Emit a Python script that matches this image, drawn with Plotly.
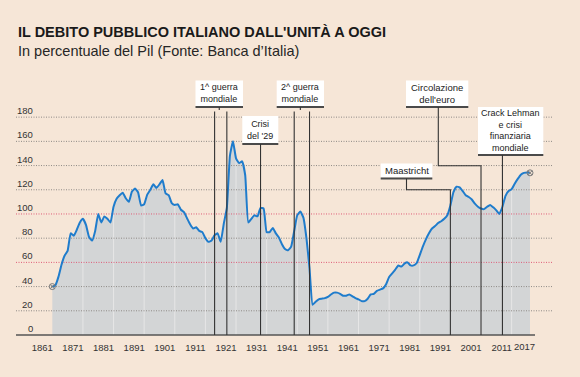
import plotly.graph_objects as go

# ---------------- data ----------------
years = list(range(1861, 2018))
debt = [
    40, 41, 48, 58, 65.5, 69.5, 84, 82, 87, 93,            # 1861-1870
    96, 91, 81, 78, 86, 100, 93, 98, 96, 93,               # 1871-1880
    106, 112.5, 115.5, 117.5, 113, 110, 118.5, 121, 118, 107,  # 1881-1890
    108, 116, 120, 124.5, 121.5, 124.5, 128, 117, 115.5, 109,  # 1891-1900
    107.5, 108, 103.5, 101.5, 96.5, 91.5, 88, 89, 86, 85,  # 1901-1910
    80, 77, 78, 82.5, 84, 77, 92, 105, 148, 160,           # 1911-1920
    146, 142, 143.5, 132, 93, 96, 99, 98, 105, 104.5,      # 1921-1930
    85, 85, 88.5, 84, 80.5, 75, 71, 70, 73, 86,            # 1931-1940
    99, 102, 97, 80, 55, 25, 27.5, 29.5, 30, 30.5,         # 1941-1950
    31.5, 33.5, 35, 35, 34, 32.5, 32.5, 33.5, 32, 30.5,    # 1951-1960
    29.5, 28, 28, 30, 33.5, 34, 36.5, 37.5, 38.5, 42,      # 1961-1970
    48, 51, 54, 57.5, 56.5, 59, 60, 57.5, 57.5, 59.5,      # 1971-1980
    66, 73, 79, 84, 88, 90, 92.5, 94, 96, 99,              # 1981-1990
    107, 118, 122.5, 122, 119, 115.5, 114, 112, 108.5, 106,  # 1991-2000
    104.5, 104, 106, 107.5, 105.5, 103, 100, 106, 115, 119,  # 2001-2010
    120.5, 125, 129, 132.5, 134, 134.3, 134,               # 2011-2017
]
assert len(debt) == len(years)

y_ticks = [0, 20, 40, 60, 80, 100, 120, 140, 160, 180]
red_levels = [60, 100]
x_ticks = list(range(1861, 2012, 10))
last_year_label = 2017

title = "IL DEBITO PUBBLICO ITALIANO DALL'UNITÀ A OGGI"
subtitle = "In percentuale del Pil (Fonte: Banca d’Italia)"

# event labels and the years they point to
ev_ww1 = (["1^ guerra", "mondiale"], [1914, 1918])
ev_29 = (["Crisi", "del '29"], [1929])
ev_ww2 = (["2^ guerra", "mondiale"], [1940, 1945])
ev_maas = (["Maastricht"], [1991])
ev_euro = (["Circolazione", "dell'euro"], [2001])
ev_lehman = (["Crack Lehman", "e crisi", "finanziaria", "mondiale"], [2008])

# ---------------- layout geometry (pixels) ----------------
W, H = 580, 377
PL, PR, PT, PB = 16, 552, 99, 335
X0_PX, X1_PX = 52.3, 530.0           # where first / last year sit
scale = (X1_PX - X0_PX) / (years[-1] - years[0])
X_MIN = years[0] - (X0_PX - PL) / scale
X_MAX = years[-1] + (PR - X1_PX) / scale
Y_MAX = 195

def px_x(X):
    return (X - PL) / (PR - PL)

def px_y(Y):
    return (PB - Y) / (PB - PT)

def px_year(X):
    return X_MIN + (X - PL) / (PR - PL) * (X_MAX - X_MIN)

BG = "#f6e6d7"
FILL = "#d3d5d6"
BLUE = "#1f7ccc"
GRID = "#8e8a86"
RED = "#df5c78"
TXT = "#222222"
FONT = "Liberation Sans, Arial, sans-serif"

fig = go.Figure()

# area under the curve
fig.add_trace(go.Scatter(
    x=years, y=debt, mode="lines", fill="tozeroy", fillcolor=FILL,
    line=dict(width=0, shape="spline", smoothing=0.4), hoverinfo="skip"))

# light decade lines inside the area
vx, vy = [], []
for t in x_ticks[1:]:
    vx += [t, t, None]
    vy += [0, debt[years.index(t)], None]
fig.add_trace(go.Scatter(x=vx, y=vy, mode="lines",
                         line=dict(color="#e6e6e6", width=1), hoverinfo="skip"))

# horizontal grid lines (drawn above the fill)
gx, gy, rx, ry = [], [], [], []
for v in y_ticks[1:]:
    if v in red_levels:
        rx += [X_MIN, X_MAX, None]
        ry += [v, v, None]
    else:
        gx += [X_MIN, X_MAX, None]
        gy += [v, v, None]
fig.add_trace(go.Scatter(x=gx, y=gy, mode="lines",
                         line=dict(color=GRID, width=1, dash="1px,1.5px"), hoverinfo="skip"))
fig.add_trace(go.Scatter(x=rx, y=ry, mode="lines",
                         line=dict(color=RED, width=1, dash="1px,1.5px"), hoverinfo="skip"))

# the debt line
fig.add_trace(go.Scatter(x=years, y=debt, mode="lines",
                         line=dict(color=BLUE, width=2, shape="spline", smoothing=0.4),
                         hoverinfo="skip"))
# end markers
fig.add_trace(go.Scatter(x=[years[0], years[-1]], y=[debt[0], debt[-1]], mode="markers",
                         marker=dict(symbol="circle-x-open", size=6, color="#7a7a7a",
                                     line=dict(width=1)),
                         cliponaxis=False, hoverinfo="skip"))

shapes = []
annotations = []

# baseline
shapes.append(dict(type="line", xref="paper", yref="paper", x0=0, x1=px_x(535),
                   y0=0, y1=0, line=dict(color="#555555", width=1.5), layer="above"))

LINE_C = "#333333"

def vline_year(yr, y_top_px):
    shapes.append(dict(type="line", xref="x", yref="paper", x0=yr, x1=yr,
                       y0=px_y(y_top_px), y1=0, line=dict(color=LINE_C, width=1.1),
                       layer="above"))

def seg_px(xa, ya, xb, yb):
    shapes.append(dict(type="line", xref="x", yref="paper",
                       x0=px_year(xa), x1=px_year(xb), y0=px_y(ya), y1=px_y(yb),
                       line=dict(color=LINE_C, width=1.1), layer="above"))

def box(lines, x0, x1, y0, y1, size=9.5):
    shapes.append(dict(type="rect", xref="paper", yref="paper",
                       x0=px_x(x0), x1=px_x(x1), y0=px_y(y1), y1=px_y(y0),
                       fillcolor="#ffffff", line=dict(width=0), layer="above"))
    shapes.append(dict(type="line", xref="paper", yref="paper",
                       x0=px_x(x0), x1=px_x(x1), y0=px_y(y1 + 1), y1=px_y(y1 + 1),
                       line=dict(color="#4a4a4a", width=2), layer="above"))
    cx = (x0 + x1) / 2
    annotations.append(dict(text="<br>".join(lines), xref="paper", yref="paper",
                            x=px_x(cx), y=px_y((y0 + y1) / 2), xanchor="center",
                            yanchor="middle", showarrow=False, align="center",
                            font=dict(family=FONT, size=size, color=TXT)))
    return cx

# 1^ guerra mondiale
cx = box(ev_ww1[0], 195.5, 243, 80.5, 106, 9)
seg_px(cx, 107, cx, 110)
for yr in ev_ww1[1]:
    vline_year(yr, 111.5)

# Crisi del '29
cx = box(ev_29[0], 242.3, 278.3, 116, 143, 9)
for yr in ev_29[1]:
    vline_year(yr, 144)

# 2^ guerra mondiale
cx = box(ev_ww2[0], 276.7, 324, 80.5, 106, 9)
seg_px(cx, 107, cx, 110)
for yr in ev_ww2[1]:
    vline_year(yr, 111.5)

# Maastricht (elbow)
cx = box(ev_maas[0], 380.7, 432.3, 163.5, 177.5, 9.5)
yr = ev_maas[1][0]
shapes.append(dict(type="path", xref="x", yref="paper", layer="above",
                   path=f"M{px_year(cx)},{px_y(178.5)} L{px_year(cx)},{px_y(189.7)} "
                        f"L{yr},{px_y(189.7)} L{yr},0",
                   line=dict(color=LINE_C, width=1.1)))

# Circolazione dell'euro (elbow)
cx = box(ev_euro[0], 406, 468.3, 80.5, 106, 9.5)
yr = ev_euro[1][0]
shapes.append(dict(type="path", xref="x", yref="paper", layer="above",
                   path=f"M{px_year(438.3)},{px_y(107)} L{px_year(438.3)},{px_y(165.7)} "
                        f"L{yr},{px_y(165.7)} L{yr},0",
                   line=dict(color=LINE_C, width=1.1)))

# Crack Lehman
cx = box(ev_lehman[0], 478, 543.3, 107, 154, 9)
for yr in ev_lehman[1]:
    vline_year(yr, 155)

# y tick labels (above their grid lines)
for v in y_ticks:
    annotations.append(dict(text=str(v), xref="paper", yref="y", x=px_x(35), y=v,
                            xanchor="right", yanchor="middle", yshift=6.5, showarrow=False,
                            font=dict(family=FONT, size=9.5, color="#333333")))

# last year label
annotations.append(dict(text=str(last_year_label), xref="x", yref="paper", x=last_year_label,
                        y=px_y(346.5), xanchor="center", yanchor="middle", xshift=-6,
                        showarrow=False, font=dict(family=FONT, size=9.5, color="#333333")))

# title and subtitle
annotations.append(dict(text=title, xref="paper", yref="paper", x=0, y=px_y(31.5),
                        xanchor="left", yanchor="middle", showarrow=False,
                        font=dict(family=FONT, size=14.5, color="#1a1a1a", weight="bold")))
annotations.append(dict(text=subtitle, xref="paper", yref="paper", x=0, y=px_y(51.5),
                        xanchor="left", yanchor="middle", showarrow=False,
                        font=dict(family=FONT, size=14.5, color="#262626")))

fig.update_layout(
    width=W, height=H,
    margin=dict(l=PL, r=W - PR, t=PT, b=H - PB, pad=0),
    paper_bgcolor=BG, plot_bgcolor=BG,
    showlegend=False, hovermode=False,
    shapes=shapes, annotations=annotations,
    xaxis=dict(range=[X_MIN, X_MAX], tickvals=x_ticks, ticktext=[str(t) for t in x_ticks],
               showgrid=False, zeroline=False, showline=False, ticks="",
               tickfont=dict(family=FONT, size=9.5, color="#333333"),
               ticklabelshift=-10, ticklabelstandoff=5, fixedrange=True),
    yaxis=dict(range=[0, Y_MAX], showgrid=False, zeroline=False, showline=False,
               showticklabels=False, ticks="", fixedrange=True),
)

fig.write_html("out.html",
               config={"displayModeBar": False, "staticPlot": True},
               post_script="document.body.style.margin='0';document.body.style.background='"
                           + BG + "';")
